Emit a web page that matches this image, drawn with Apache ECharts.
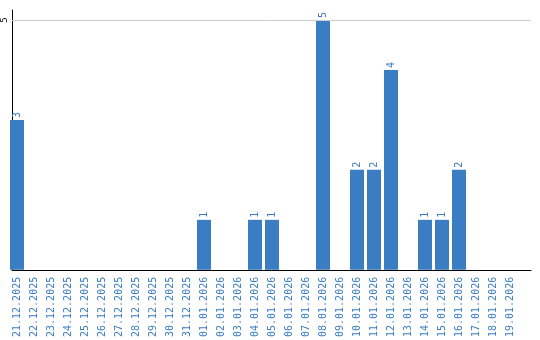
<!DOCTYPE html>
<html><head><meta charset="utf-8">
<script src="https://cdn.jsdelivr.net/npm/echarts@6/dist/echarts.min.js"></script>
<style>html,body{margin:0;padding:0;background:#fff}#c{width:540px;height:340px}</style>
</head><body><div id="c"></div>
<script>
const categories = ['21.12.2025','22.12.2025','23.12.2025','24.12.2025','25.12.2025','26.12.2025','27.12.2025','28.12.2025','29.12.2025','30.12.2025','31.12.2025','01.01.2026','02.01.2026','03.01.2026','04.01.2026','05.01.2026','06.01.2026','07.01.2026','08.01.2026','09.01.2026','10.01.2026','11.01.2026','12.01.2026','13.01.2026','14.01.2026','15.01.2026','16.01.2026','17.01.2026','18.01.2026','19.01.2026'];
const values = [3,0,0,0,0,0,0,0,0,0,0,1,0,0,1,1,0,0,5,0,2,2,4,0,1,1,2,0,0,0];
const yTicks = [0,5];

const blue = '#3a7dc2';
const chart = echarts.init(document.getElementById('c'), null, {renderer:'canvas'});
chart.setOption({
  animation:false,
  grid:[
    {left:10, right:9, top:10, bottom:70},
    {left:8.5, width:510, top:10, bottom:70}
  ],
  xAxis:[
    {gridIndex:0, type:'value', min:0, max:1, axisLine:{show:true, lineStyle:{color:'#000', width:1}}, axisTick:{show:false}, axisLabel:{show:false}, splitLine:{show:false}},
    {gridIndex:1, type:'category', data:categories, axisLine:{show:false}, axisTick:{show:false},
     axisLabel:{rotate:90, interval:0, margin:7, color:blue, fontSize:10, fontFamily:'DejaVu Sans Mono'}}
  ],
  yAxis:[
    {gridIndex:0, type:'value', min:0, max:5.2, interval:5, axisLine:{show:true, lineStyle:{color:'#000', width:1}}, axisTick:{show:false},
     axisLabel:{rotate:90, margin:3, color:'#000', fontSize:9, fontFamily:'DejaVu Sans Mono', formatter:v=> v===yTicks[1]? String(v):''},
     splitLine:{show:false}},
    {gridIndex:1, type:'value', min:0, max:5.2, interval:5, show:false}
  ],
  series:[
  {
    type:'line', xAxisIndex:0, yAxisIndex:0, data:[], silent:true,
    markLine:{silent:true, symbol:'none', label:{show:false}, lineStyle:{color:'#cccccc', width:1, type:'solid'},
      data:[{yAxis:yTicks[1]}]}
  },
  {
    type:'bar', xAxisIndex:1, yAxisIndex:1, data:values, barWidth:14, z:3,
    itemStyle:{color:blue},
    label:{show:true, position:'top', rotate:90, align:'left', verticalAlign:'middle', distance:2, color:blue, fontSize:10, fontFamily:'DejaVu Sans Mono',
      formatter:p=> p.value===0?'':String(p.value)}
  }]
});
</script></body></html>
